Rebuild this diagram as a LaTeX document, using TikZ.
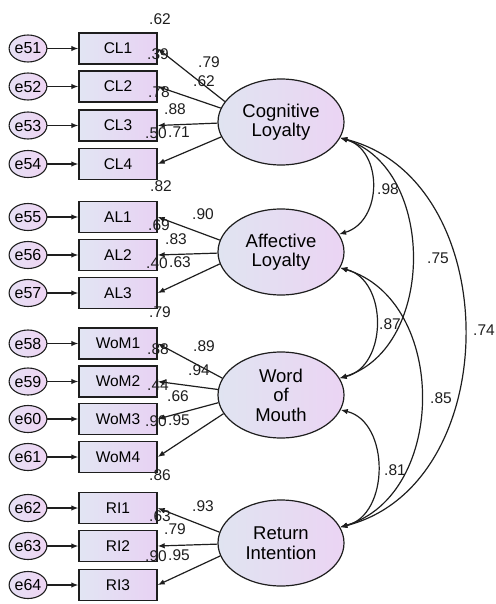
\documentclass[tikz,border=0pt]{standalone}
\usepackage{fontspec}
\setmainfont{Liberation Sans}
\usetikzlibrary{arrows.meta,shapes.geometric}
\definecolor{boxleft}{RGB}{226,229,243}
\definecolor{boxright}{RGB}{232,210,243}
\definecolor{latleft}{RGB}{224,228,241}
\definecolor{latright}{RGB}{235,212,243}
\definecolor{errleft}{RGB}{230,224,244}
\definecolor{errright}{RGB}{238,212,243}
\definecolor{ink}{RGB}{30,30,30}
\tikzset{
  obs/.style={rectangle, draw=ink, line width=1.4pt, minimum width=78pt, minimum height=31pt,
    inner sep=0pt, left color=boxleft, right color=boxright, font=\fontsize{15.5}{18}\selectfont},
  lat/.style={ellipse, draw=ink, line width=1.2pt, minimum width=126pt, minimum height=86pt,
    inner sep=0pt, left color=latleft, right color=latright, align=center,
    font=\fontsize{18.5}{19.5}\selectfont},
  err/.style={ellipse, draw=ink, line width=1.1pt, minimum width=29pt, minimum height=27pt,
    inner sep=0pt, left color=errleft, right color=errright, font=\fontsize{16}{18}\selectfont},
  load/.style={draw=ink, line width=1.2pt, -{Latex[length=7pt,width=5.5pt]}},
  cov/.style={draw=ink, line width=1.2pt, {Latex[length=7pt,width=5.5pt]}-{Latex[length=7pt,width=5.5pt]}},
  num/.style={font=\fontsize{15.5}{18}\selectfont, inner sep=0pt, text=ink},
}
\begin{document}
\begin{tikzpicture}[x=1pt,y=-1pt]
\useasboundingbox (0,0) rectangle (495,604);

% latent factors
\node[lat] (cl)  at (281,122) {Cognitive\\Loyalty};
\node[lat] (al)  at (281,252) {Affective\\Loyalty};
\node[lat] (wom) at (281,395) {Word\\of\\Mouth};
\node[lat] (ri)  at (281,543) {Return\\Intention};

% indicators
\node[obs] (cl1) at (118,48.5) {CL1};
\node[obs] (cl2) at (118,86.5) {CL2};
\node[obs] (cl3) at (118,125.5) {CL3};
\node[obs] (cl4) at (118,164) {CL4};
\node[obs] (al1) at (118,217) {AL1};
\node[obs] (al2) at (118,255) {AL2};
\node[obs] (al3) at (118,293) {AL3};
\node[obs] (wom1) at (118,343.5) {WoM1};
\node[obs] (wom2) at (118,381.5) {WoM2};
\node[obs] (wom3) at (118,419) {WoM3};
\node[obs] (wom4) at (118,457) {WoM4};
\node[obs] (ri1) at (118,508) {RI1};
\node[obs] (ri2) at (118,546) {RI2};
\node[obs] (ri3) at (118,585) {RI3};

% error terms
\foreach \n/\t in {51/cl1,52/cl2,53/cl3,54/cl4,55/al1,56/al2,57/al3,58/wom1,59/wom2,60/wom3,61/wom4,62/ri1,63/ri2,64/ri3}{
  \node[err] (e\n) at (28,0 |- \t) {e\n};
  \draw[load] (e\n) -- (\t);
}

% factor loadings
\draw[load] (cl.160) -- (cl1.east);
\draw[load] (cl.167) -- (cl2.east);
\draw[load] (cl.181) -- (cl3.east);
\draw[load] (cl.194) -- (cl4.east);
\draw[load] (al.169) -- (al1.east);
\draw[load] (al.181) -- (al2.east);
\draw[load] (al.191) -- (al3.east);
\draw[load] (wom.164) -- (wom1.east);
\draw[load] (wom.175) -- (wom2.east);
\draw[load] (wom.187) -- (wom3.east);
\draw[load] (wom.198) -- (wom4.east);
\draw[load] (ri.170) -- (ri1.east);
\draw[load] (ri.181) -- (ri2.east);
\draw[load] (ri.192) -- (ri3.east);

% covariances between factors
\draw[cov] (cl.-15) .. controls (383,150) and (383,221) .. (al.17);
\draw[cov] (al.-15) .. controls (388,280) and (388,366) .. (wom.16);
\draw[cov] (wom.-14) .. controls (390,422) and (390,515) .. (ri.15);
\draw[cov] (cl.-15) .. controls (436,168) and (436,348) .. (wom.16);
\draw[cov] (al.-15) .. controls (448,300) and (448,495) .. (ri.15);
\draw[cov] (cl.-15) .. controls (506,180) and (506,485) .. (ri.15);

% squared multiple correlations
\node[num] (s1)  at (160,19)  {.62};
\node[num] (s2)  at (158,54)  {.39};
\node[num] (s3)  at (159,92)  {.78};
\node[num] (s4)  at (156,133) {.50};
\node[num] (s5)  at (161,186) {.82};
\node[num] (s6)  at (159,225) {.69};
\node[num] (s7)  at (157,263) {.40};
\node[num] (s8)  at (160,312) {.79};
\node[num] (s9)  at (158,349) {.88};
\node[num] (s10) at (158,385) {.44};
\node[num] (s11) at (156,421) {.90};
\node[num] (s12) at (160,475) {.86};
\node[num] (s13) at (160,516) {.63};
\node[num] (s14) at (156,556) {.90};

% loading values
\node[num] (l1)  at (209,62)  {.79};
\node[num] (l2)  at (204,81)  {.62};
\node[num] (l3)  at (175,109) {.88};
\node[num] (l4)  at (179,132) {.71};
\node[num] (l5)  at (203,214) {.90};
\node[num] (l6)  at (176,239) {.83};
\node[num] (l7)  at (180,262) {.63};
\node[num] (l8)  at (204,346) {.89};
\node[num] (l9)  at (199,370) {.94};
\node[num] (l10) at (178,396) {.66};
\node[num] (l11) at (179,420) {.95};
\node[num] (l12) at (203,506) {.93};
\node[num] (l13) at (175,529) {.79};
\node[num] (l14) at (179,555) {.95};

% correlation values
\node[num] (c1) at (388,189) {.98};
\node[num] (c2) at (438,258) {.75};
\node[num] (c3) at (390,324) {.87};
\node[num] (c4) at (484,330) {.74};
\node[num] (c5) at (441,398) {.85};
\node[num] (c6) at (395,470) {.81};
\end{tikzpicture}
\end{document}
